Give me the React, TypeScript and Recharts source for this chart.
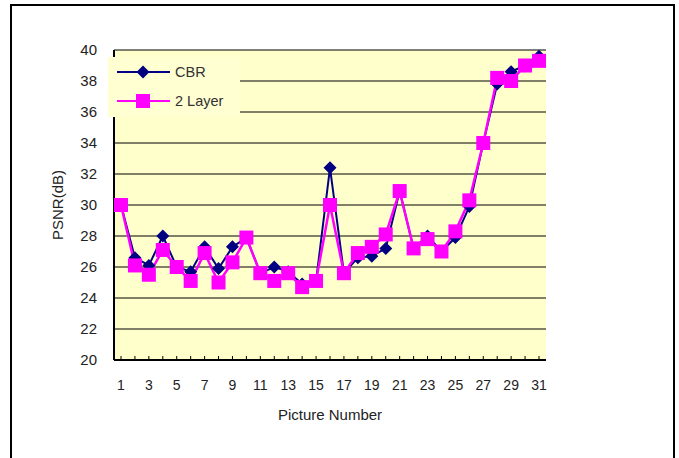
import React from "react";
import {
  CartesianGrid,
  Legend,
  Line,
  LineChart,
  XAxis,
  YAxis,
} from "recharts";

const PICTURES = [
  1, 2, 3, 4, 5, 6, 7, 8, 9, 10, 11, 12, 13, 14, 15, 16, 17, 18, 19, 20, 21,
  22, 23, 24, 25, 26, 27, 28, 29, 30, 31,
];
const CBR = [
  30.0, 26.6, 26.1, 28.0, 26.0, 25.7, 27.3, 25.9, 27.3, 27.9, 25.6, 26.0, 25.7,
  24.9, 25.1, 32.4, 25.6, 26.6, 26.7, 27.2, 30.9, 27.2, 28.0, 27.0, 27.9, 29.9,
  34.0, 37.8, 38.6, 39.0, 39.6,
];
const TWO_LAYER = [
  30.0, 26.1, 25.5, 27.1, 26.0, 25.1, 26.9, 25.0, 26.3, 27.9, 25.6, 25.1, 25.6,
  24.7, 25.1, 30.0, 25.6, 26.9, 27.3, 28.1, 30.9, 27.2, 27.8, 27.0, 28.3, 30.3,
  34.0, 38.2, 38.0, 39.0, 39.3,
];
const Y_TICKS = [20, 22, 24, 26, 28, 30, 32, 34, 36, 38, 40];
const LEGEND_ORDER = ["cbr", "layer2"];

const NAVY = "#000080";
const MAGENTA = "#FF00FF";
const FONT = "'Liberation Sans', Arial, sans-serif";

const data = PICTURES.map((p, i) => ({
  pic: p,
  cbr: CBR[i],
  layer2: TWO_LAYER[i],
}));

function marker(kind: string, x: number, y: number, color: string) {
  if (kind === "diamond") {
    const r = 6.5;
    return (
      <path
        d={`M${x},${y - r}L${x + r},${y}L${x},${y + r}L${x - r},${y}Z`}
        fill={color}
      />
    );
  }
  return <rect x={x - 7} y={y - 7} width={14} height={14} fill={color} />;
}

const Diamond = (props: any) => {
  const { cx, cy, index } = props;
  if (cx == null || cy == null) return <g key={index} />;
  return <g key={index}>{marker("diamond", cx, cy, NAVY)}</g>;
};

const Square = (props: any) => {
  const { cx, cy, index } = props;
  if (cx == null || cy == null) return <g key={index} />;
  return <g key={index}>{marker("square", cx, cy, MAGENTA)}</g>;
};

const renderLegend = (props: any) => {
  const payload = [...(props.payload || [])].sort(
    (a: any, b: any) =>
      LEGEND_ORDER.indexOf(a.dataKey) - LEGEND_ORDER.indexOf(b.dataKey)
  );
  return (
    <svg width={132} height={60} style={{ display: "block" }}>
      {payload.map((entry: any, i: number) => {
        const y = 15 + i * 29;
        const kind = entry.dataKey === "cbr" ? "diamond" : "square";
        return (
          <g key={entry.value}>
            <line
              x1={9}
              x2={62}
              y1={y}
              y2={y}
              stroke={entry.color}
              strokeWidth={2}
            />
            {marker(kind, 35, y, entry.color)}
            <text
              x={67}
              y={y}
              dy="0.35em"
              fontSize={14.5}
              fill="#333"
              fontFamily={FONT}
            >
              {entry.value}
            </text>
          </g>
        );
      })}
    </svg>
  );
};

export default function App() {
  return (
    <div
      style={{
        position: "absolute",
        left: 0,
        top: 0,
        width: 679,
        height: 458,
        overflow: "hidden",
        background: "#fff",
        fontFamily: FONT,
      }}
    >
      <div style={{ position: "absolute", left: 0, top: 0 }}>
        <LineChart
          width={679}
          height={458}
          data={data}
          margin={{ top: 50, right: 133, bottom: 36, left: 54 }}
        >
          <CartesianGrid
            vertical={false}
            stroke="#000"
            fill="#FFFFCC"
            yAxisId="l"
          />
          <XAxis
            dataKey="pic"
            interval={0}
            padding={{ left: 7, right: 7 }}
            tickFormatter={(v: number, i: number) =>
              i % 2 === 0 ? String(v) : ""
            }
            height={62}
            tickSize={-4}
            tickMargin={24}
            axisLine={{ stroke: "#000", strokeWidth: 2 }}
            tickLine={{ stroke: "#000" }}
            tick={{ fill: "#222", fontSize: 14, fontFamily: FONT }}
            label={{
              value: "Picture Number",
              position: "insideBottom",
              offset: 2,
              fill: "#222",
              fontSize: 15,
              fontFamily: FONT,
            }}
          />
          <YAxis
            yAxisId="l"
            domain={[20, 40]}
            ticks={Y_TICKS}
            width={60}
            tickSize={0}
            tickMargin={17}
            tickLine={false}
            axisLine={{ stroke: "#000", strokeWidth: 2 }}
            tick={{ fill: "#222", fontSize: 15, fontFamily: FONT }}
            label={{
              value: "PSNR(dB)",
              angle: -90,
              position: "insideLeft",
              offset: 4,
              fill: "#222",
              fontSize: 15,
              fontFamily: FONT,
              style: { textAnchor: "middle" },
            }}
          />
          <YAxis
            yAxisId="r"
            orientation="right"
            domain={[20, 40]}
            width={0}
            tick={false}
            tickLine={false}
            axisLine={{ stroke: "#555", strokeWidth: 2 }}
          />
          <Legend
            layout="vertical"
            align="center"
            verticalAlign="middle"
            content={renderLegend}
            wrapperStyle={{
              position: "absolute",
              left: 108,
              top: 57,
              width: 132,
              height: 60,
              background: "#FFFFD2",
            }}
          />
          <Line
            yAxisId="l"
            type="linear"
            dataKey="cbr"
            name="CBR"
            stroke={NAVY}
            strokeWidth={2}
            dot={Diamond}
            activeDot={false}
            isAnimationActive={false}
          />
          <Line
            yAxisId="l"
            type="linear"
            dataKey="layer2"
            name="2 Layer"
            stroke={MAGENTA}
            strokeWidth={2.5}
            dot={Square}
            activeDot={false}
            isAnimationActive={false}
          />
        </LineChart>
      </div>
      <div
        style={{
          position: "absolute",
          left: 10,
          top: 4,
          width: 665,
          height: 480,
          border: "2px solid #000",
          boxSizing: "border-box",
          pointerEvents: "none",
        }}
      />
    </div>
  );
}
